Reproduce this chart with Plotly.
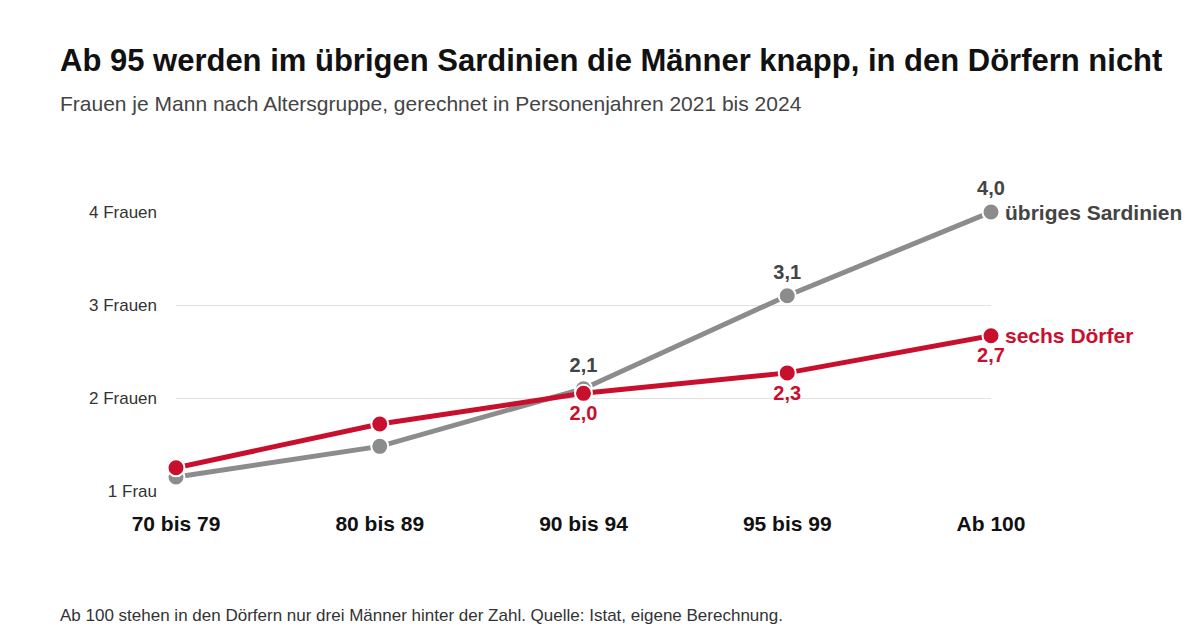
import plotly.graph_objects as go

categories = ["70 bis 79", "80 bis 89", "90 bis 94", "95 bis 99", "Ab 100"]
sardinien = [1.15, 1.48, 2.1, 3.1, 4.0]
doerfer = [1.25, 1.72, 2.05, 2.27, 2.67]
sard_labels = ["", "", "<b>2,1</b>", "<b>3,1</b>", "<b>4,0</b>"]
doerf_labels = ["", "", "<b>2,0</b>", "<b>2,3</b>", "<b>2,7</b>"]
ytick_vals = [1, 2, 3, 4]
ytick_text = ["1 Frau", "2 Frauen", "3 Frauen", "4 Frauen"]

GREY = "#8c8c8c"
RED = "#c8102e"
x = list(range(len(categories)))

fig = go.Figure()
fig.add_trace(go.Scatter(x=x, y=sardinien, mode="lines+markers+text", text=sard_labels,
    textposition="top center", textfont=dict(size=20, color="#444", family="Liberation Sans"),
    line=dict(color=GREY, width=5), marker=dict(size=17, color=GREY, line=dict(color="white", width=2)),
    cliponaxis=False, showlegend=False))
fig.add_trace(go.Scatter(x=x, y=doerfer, mode="lines+markers+text", text=doerf_labels,
    textposition="bottom center", textfont=dict(size=20, color=RED, family="Liberation Sans"),
    line=dict(color=RED, width=5), marker=dict(size=17, color=RED, line=dict(color="white", width=2)),
    cliponaxis=False, showlegend=False))

fig.add_annotation(x=4, y=sardinien[-1], text="<b>übriges Sardinien</b>", xanchor="left", xshift=12,
    showarrow=False, font=dict(size=21, color="#444"))
fig.add_annotation(x=4, y=doerfer[-1], text="<b>sechs Dörfer</b>", xanchor="left", xshift=12,
    showarrow=False, font=dict(size=21, color=RED))

fig.update_layout(
    width=1200, height=633, plot_bgcolor="white", paper_bgcolor="white",
    font=dict(family="Liberation Sans", color="#333"),
    margin=dict(l=168, r=217, t=204, b=150, autoexpand=False),
    xaxis=dict(range=[0, 4], tickvals=x, ticktext=[f"<b>{c}</b>" for c in categories],
               showgrid=False, zeroline=False, showline=False, ticks="",
               ticklabelstandoff=18, tickfont=dict(size=21, color="#111")),
    yaxis=dict(range=[1, 4], tickvals=ytick_vals, ticktext=ytick_text, showgrid=True,
               gridcolor="#e3e3e3", gridwidth=1, zeroline=False, showline=False,
               ticks="", ticklabelstandoff=18, tickfont=dict(size=17, color="#333")),
)
LX = -118 / 815
fig.add_annotation(xref="paper", yref="paper", x=LX, y=1, xanchor="left", yanchor="middle", yshift=152,
    text="<b>Ab 95 werden im übrigen Sardinien die Männer knapp, in den Dörfern nicht</b>",
    showarrow=False, font=dict(size=31, color="#111"))
fig.add_annotation(xref="paper", yref="paper", x=LX, y=1, xanchor="left", yanchor="middle", yshift=109,
    text="Frauen je Mann nach Altersgruppe, gerechnet in Personenjahren 2021 bis 2024",
    showarrow=False, font=dict(size=21, color="#444"))
fig.add_annotation(xref="paper", yref="paper", x=LX, y=0, xanchor="left", yanchor="middle", yshift=-124,
    text="Ab 100 stehen in den Dörfern nur drei Männer hinter der Zahl. Quelle: Istat, eigene Berechnung.",
    showarrow=False, font=dict(size=17, color="#333"))

fig.write_html("out.html")
